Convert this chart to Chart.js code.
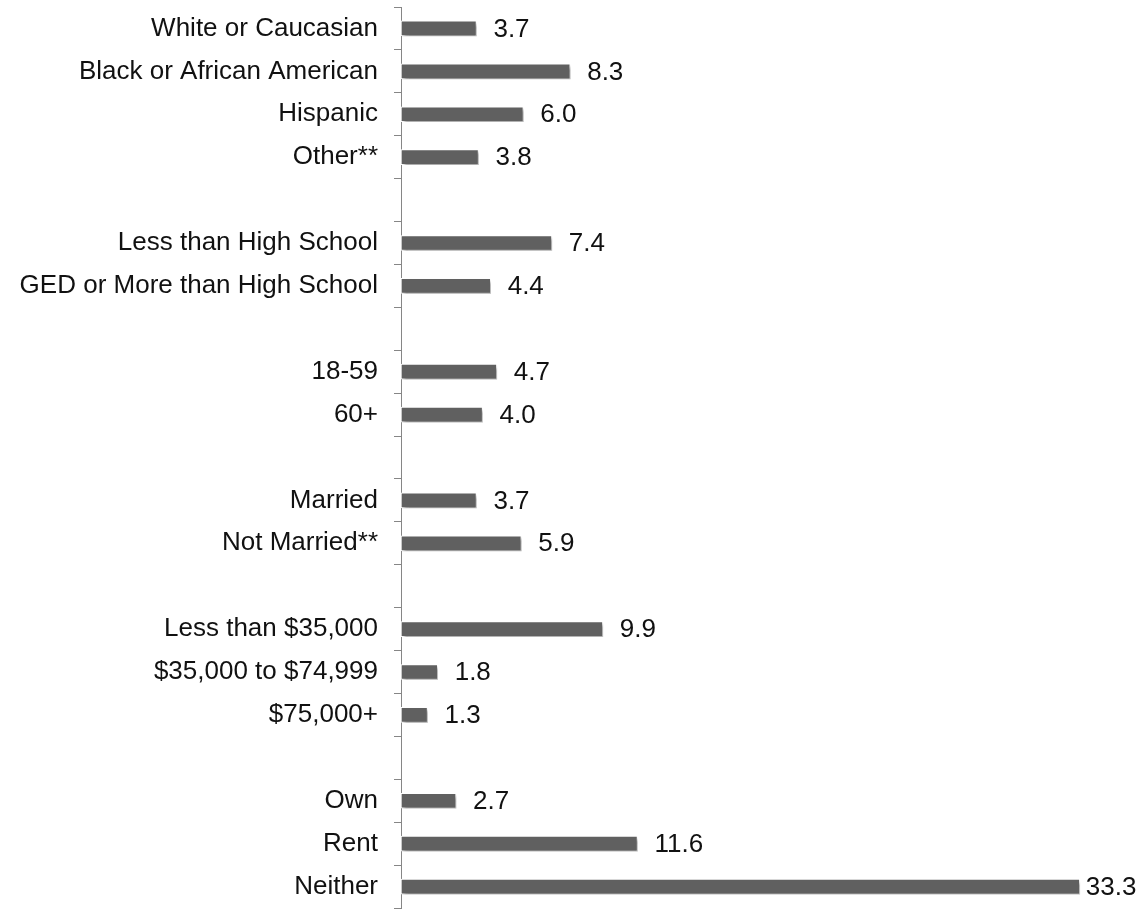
<!DOCTYPE html>
<html>
<head>
<meta charset="utf-8">
<script src="https://cdn.jsdelivr.net/npm/chart.js@4/dist/chart.umd.min.js"></script>
<style>
  html, body { margin: 0; padding: 0; background: #fff; }
  #wrap { width: 1146px; height: 910px; position: relative; }
</style>
</head>
<body>
<div id="wrap"><canvas id="grafico"></canvas></div>
<script>
// categorias (linhas vazias separam os grupos)
const categorias = [
    'White or Caucasian', 'Black or African American', 'Hispanic', 'Other**', '',
    'Less than High School', 'GED or More than High School', '',
    '18-59', '60+', '',
    'Married', 'Not Married**', '',
    'Less than $35,000', '$35,000 to $74,999', '$75,000+', '',
    'Own', 'Rent', 'Neither'
];
const valores = [
    3.7, 8.3, 6.0, 3.8, null,
    7.4, 4.4, null,
    4.7, 4.0, null,
    3.7, 5.9, null,
    9.9, 1.8, 1.3, null,
    2.7, 11.6, 33.3
];

const fonte = '"Liberation Sans", Arial, sans-serif';

// sombra das barras
const sombra = {
    id: 'sombra',
    beforeDatasetsDraw(chart) {
        const c = chart.ctx;
        c.save();
        c.shadowColor = 'rgba(0,0,0,0.35)';
        c.shadowBlur = 3;
        c.shadowOffsetX = 2;
        c.shadowOffsetY = 3;
    },
    afterDatasetsDraw(chart) {
        chart.ctx.restore();
    }
};

// rótulos de valor
const rotulos = {
    id: 'rotulos',
    afterDraw(chart) {
        const c = chart.ctx;
        const meta = chart.getDatasetMeta(0);
        c.save();
        c.font = '26px ' + fonte;
        c.fillStyle = '#111';
        c.textBaseline = 'middle';
        c.textAlign = 'left';
        meta.data.forEach((bar, i) => {
            if (valores[i] == null) return;
            const txt = valores[i].toFixed(1);
            const w = c.measureText(txt).width;
            let x = bar.x + 17;
            if (x + w > chart.width - 4) x = bar.x + 6;
            c.fillText(txt, x, bar.y + 1);
        });
        c.restore();
    }
};

const ctx = document.getElementById('grafico').getContext('2d');

new Chart(ctx, {
    type: 'bar',
    data: {
        labels: categorias,
        datasets: [{
            data: valores,
            backgroundColor: '#606060',
            borderColor: '#ffffff',
            borderWidth: 1,
            borderSkipped: false,
            barThickness: 15
        }]
    },
    options: {
        indexAxis: 'y',
        responsive: true,
        maintainAspectRatio: false,
        animation: false,
        layout: { padding: { top: 7, bottom: 2, right: 0, left: 0 } },
        plugins: {
            legend: { display: false },
            tooltip: { enabled: false }
        },
        scales: {
            x: {
                display: false,
                min: 0,
                max: 36.55
            },
            y: {
                afterFit(scale) {
                    scale.width = 401;
                    scale.paddingTop = 0;
                    scale.paddingBottom = 0;
                },
                border: { color: '#868686', width: 1 },
                grid: {
                    drawOnChartArea: false,
                    drawTicks: true,
                    tickLength: 7,
                    color: '#868686'
                },
                ticks: {
                    padding: 16,
                    color: '#111',
                    font: { family: fonte, size: 26 }
                }
            }
        }
    },
    plugins: [sombra, rotulos]
});
</script>
</body>
</html>
